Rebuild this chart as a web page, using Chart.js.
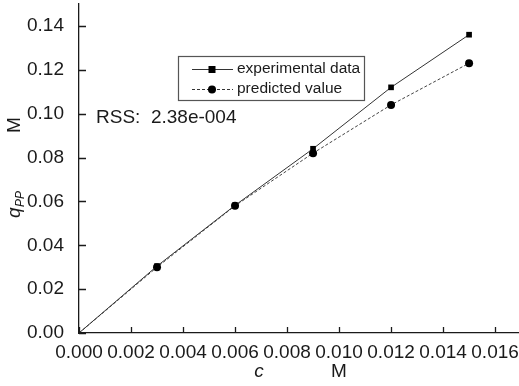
<!DOCTYPE html>
<html>
<head>
<meta charset="utf-8">
<script src="https://cdn.jsdelivr.net/npm/chart.js@4.4.0/dist/chart.umd.min.js"></script>
<style>
  html, body { margin: 0; padding: 0; background: #fff; overflow: hidden; }
  #wrap { width: 519px; height: 386px; position: relative; overflow: hidden; }
</style>
</head>
<body>
<div id="wrap"><canvas id="chart" width="540" height="386"></canvas></div>
<script>
// concentrations c (M)
const concentrations = [0, 0.003, 0.006, 0.009, 0.012, 0.015];
// q_PP values (M)
const experimental = [0, 0.0305, 0.0582, 0.084, 0.112, 0.136];
const predicted = [0, 0.030, 0.058, 0.082, 0.104, 0.123];
const xTicks = [0, 0.002, 0.004, 0.006, 0.008, 0.010, 0.012, 0.014, 0.016];
const yTicks = [0, 0.02, 0.04, 0.06, 0.08, 0.10, 0.12, 0.14];
const rssText = 'RSS:  2.38e-004';

const FONT = '"Liberation Sans", Arial, sans-serif';
const INK = '#1a1a1a';

// inward tick marks, axis titles, legend box and RSS note
const decorations = {
    id: 'decorations',
    afterDraw(chart) {
        const ctx = chart.ctx;
        const x = chart.scales.x, y = chart.scales.y;
        const area = chart.chartArea;
        ctx.save();
        ctx.strokeStyle = INK;
        ctx.lineWidth = 1.3;
        ctx.beginPath();
        xTicks.forEach(v => {
            const px = Math.round(x.getPixelForValue(v)) + 0.5;
            ctx.moveTo(px, area.bottom);
            ctx.lineTo(px, area.bottom - 6);
        });
        yTicks.forEach(v => {
            const py = Math.round(y.getPixelForValue(v)) + 0.5;
            ctx.moveTo(area.left, py);
            ctx.lineTo(area.left + 7, py);
        });
        ctx.stroke();

        // x title
        ctx.fillStyle = INK;
        ctx.textBaseline = 'middle';
        ctx.textAlign = 'center';
        ctx.font = 'italic 19px ' + FONT;
        ctx.fillText('c', 259, 372);
        ctx.font = '19px ' + FONT;
        ctx.fillText('M', 339, 372);

        // y title (rotated)
        ctx.save();
        ctx.translate(15, 125);
        ctx.rotate(-Math.PI / 2);
        ctx.font = '19px ' + FONT;
        ctx.fillText('M', 0, 0);
        ctx.restore();
        ctx.save();
        ctx.translate(15, 213);
        ctx.rotate(-Math.PI / 2);
        ctx.textAlign = 'left';
        ctx.font = 'italic 19px ' + FONT;
        ctx.fillText('q', -5, 0);
        ctx.font = 'italic 12px ' + FONT;
        ctx.fillText('PP', 6, 6);
        ctx.restore();

        // legend
        ctx.strokeStyle = '#555';
        ctx.lineWidth = 1.2;
        ctx.strokeRect(178.5, 56.5, 186, 44);
        ctx.strokeStyle = '#333';
        ctx.lineWidth = 1;
        ctx.beginPath();
        ctx.moveTo(192, 69.5);
        ctx.lineTo(233, 69.5);
        ctx.stroke();
        ctx.fillStyle = '#000';
        ctx.fillRect(208.5, 66, 7, 7);
        ctx.setLineDash([3, 2]);
        ctx.beginPath();
        ctx.moveTo(192, 89.5);
        ctx.lineTo(233, 89.5);
        ctx.stroke();
        ctx.setLineDash([]);
        ctx.beginPath();
        ctx.arc(212, 89.5, 4, 0, Math.PI * 2);
        ctx.fill();
        ctx.fillStyle = INK;
        ctx.textAlign = 'left';
        ctx.font = '15.5px ' + FONT;
        ctx.fillText('experimental data', 237, 69);
        ctx.fillText('predicted value', 237, 89);

        // RSS note
        ctx.font = '19px ' + FONT;
        ctx.fillText(rssText, 96, 118);
        ctx.restore();
    }
};

new Chart(document.getElementById('chart'), {
    type: 'line',
    data: {
        datasets: [
            {
                label: 'experimental data',
                data: concentrations.map((c, i) => ({ x: c, y: experimental[i] })),
                borderColor: '#333',
                backgroundColor: '#000',
                borderWidth: 1,
                pointStyle: 'rect',
                pointRadius: [1.5, 4, 4, 4, 4, 4],
                pointBorderWidth: 0,
                tension: 0
            },
            {
                label: 'predicted value',
                data: concentrations.map((c, i) => ({ x: c, y: predicted[i] })),
                borderColor: '#444',
                backgroundColor: '#000',
                borderWidth: 1,
                borderDash: [3, 2],
                pointStyle: 'circle',
                pointRadius: [0, 4, 4, 4, 4, 4],
                pointBorderWidth: 0,
                tension: 0
            }
        ]
    },
    options: {
        responsive: false,
        animation: false,
        layout: { padding: { top: 3, right: 21, left: 0, bottom: 0 } },
        plugins: {
            legend: { display: false },
            tooltip: { enabled: false }
        },
        scales: {
            x: {
                type: 'linear',
                min: 0,
                max: 0.01692,
                grid: { display: false },
                border: { display: true, color: INK, width: 1.3 },
                afterBuildTicks: scale => { scale.ticks = xTicks.map(v => ({ value: v })); },
                afterFit: scale => {
                    scale.height = 53;
                    scale.paddingLeft = 0;
                    scale.paddingRight = 0;
                },
                ticks: {
                    color: INK,
                    font: { family: FONT, size: 19 },
                    padding: 0,
                    maxRotation: 0,
                    autoSkip: false,
                    callback: v => v.toFixed(3)
                }
            },
            y: {
                type: 'linear',
                min: 0,
                max: 0.15,
                grid: { display: false },
                border: { display: true, color: INK, width: 1.3 },
                afterBuildTicks: scale => { scale.ticks = yTicks.map(v => ({ value: v })); },
                afterFit: scale => {
                    scale.width = 79;
                    scale.paddingTop = 0;
                    scale.paddingBottom = 0;
                },
                ticks: {
                    color: INK,
                    font: { family: FONT, size: 19 },
                    padding: 7,
                    callback: v => v.toFixed(2)
                }
            }
        }
    },
    plugins: [decorations]
});
</script>
</body>
</html>
